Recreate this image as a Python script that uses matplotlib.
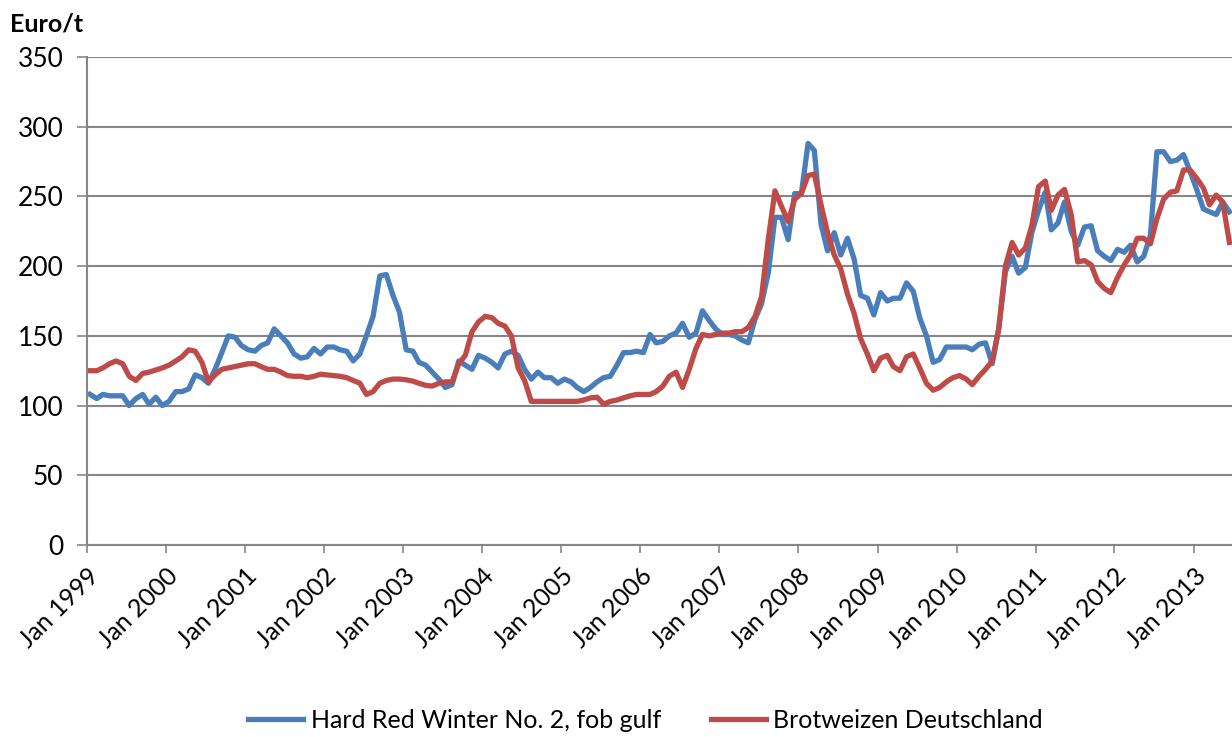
import matplotlib
matplotlib.use('Agg')
import matplotlib.pyplot as plt
import pandas as pd

# Monthly prices (Euro/t), Jan 1999 .. Jun 2013
hrw = [108, 105, 108, 107, 107, 107, 100, 105, 108, 101, 106, 100,
       103, 110, 110, 112, 122, 120, 116, 126, 138, 150, 149, 143,
       140, 139, 143, 145, 155, 150, 145, 137, 134, 135, 141, 137,
       142, 142, 140, 139, 132, 137, 150, 164, 193, 194, 179, 167,
       140, 139, 131, 129, 124, 119, 113, 115, 132, 129, 126, 136,
       134, 131, 127, 137, 139, 136, 126, 119, 124, 120, 120, 116,
       119, 117, 113, 110, 113, 117, 120, 121, 129, 138, 138, 139,
       138, 151, 145, 146, 150, 152, 159, 149, 152, 168, 161, 155,
       151, 151, 150, 147, 145, 162, 173, 195, 235, 235, 219, 252,
       252, 288, 283, 230, 211, 224, 208, 220, 205, 179, 177, 165,
       181, 175, 177, 177, 188, 182, 163, 150, 131, 133, 142, 142,
       142, 142, 140, 144, 145, 130, 155, 196, 207, 195, 199, 224,
       240, 253, 226, 231, 246, 225, 215, 228, 229, 211, 207, 204,
       212, 210, 215, 203, 207, 222, 282, 282, 275, 276, 280, 268,
       255, 241, 239, 237, 246, 239]

brot = [125, 125, 127, 130, 132, 130, 121, 118, 123, 124, 125.5, 127,
        129, 132, 135, 140, 139, 131, 117, 122, 126, 127, 128, 129,
        130, 130, 128, 126, 126, 124, 121.5, 121, 121, 120, 121, 122.5,
        122, 121.5, 121, 120, 118, 116, 108, 110, 116, 118, 119, 119,
        118.5, 117.5, 116, 114.5, 114, 116, 117, 117, 130, 136, 153, 160,
        164, 163, 159, 157, 150, 127, 118, 103, 103, 103, 103, 103,
        103, 103, 103, 104, 105.5, 106, 101, 103, 104, 105.5, 107, 108,
        108, 108, 110, 114, 121, 124, 113, 126, 141, 151, 150, 151,
        152, 152, 153, 153, 156, 164, 178, 219, 254, 243, 232, 248,
        252, 265, 266, 244, 224, 208, 198, 180, 166, 148, 137, 125,
        134, 136, 128, 125, 135, 137, 127, 116, 111, 113, 117, 120,
        121.5, 119, 115, 121, 126, 132, 155, 200, 217, 208, 213, 229,
        257, 261, 240, 251, 255, 237, 203, 204, 201, 189, 184, 181,
        192, 201, 208, 220, 220, 216, 234, 248, 253, 254, 269, 269,
        263, 256, 244, 251, 246, 217]

years = list(range(1999, 2014))
tick_labels = [f'Jan {y}' for y in years]
y_ticks = [0, 50, 100, 150, 200, 250, 300, 350]
series_names = ['Hard Red Winter No. 2, fob gulf', 'Brotweizen Deutschland']

dates = pd.date_range('1999-01-01', periods=len(hrw), freq='MS') + pd.Timedelta(days=14)
tick_dates = pd.to_datetime([f'{y}-01-01' for y in years])

plt.rcParams['font.family'] = ['Lato', 'DejaVu Sans']

fig = plt.figure(figsize=(12.32, 7.37), dpi=100)
ax = fig.add_axes([87/1232, 1 - 545/737, 1 - 87/1232, (545 - 57)/737])

blue = '#4A7EBB'
red = '#BE4B48'
grid_c = '#868686'

ax.plot(dates, hrw, color=blue, lw=3.8, label=series_names[0], solid_joinstyle='round')
ax.plot(dates, brot, color=red, lw=3.8, label=series_names[1], solid_joinstyle='round')

ax.set_ylim(0, 350)
ax.set_yticks(y_ticks)
ax.set_xlim(pd.Timestamp('1999-01-01'), pd.Timestamp('2013-06-27'))
ax.set_xticks(tick_dates)
ax.set_xticklabels(tick_labels, rotation=45, ha='right', rotation_mode='anchor')

ax.grid(axis='y', color=grid_c, lw=1.5)
ax.set_axisbelow(True)
for s in ['top', 'right']:
    ax.spines[s].set_visible(False)
for s in ['left', 'bottom']:
    ax.spines[s].set_color(grid_c)
    ax.spines[s].set_linewidth(1.5)

ax.tick_params(axis='y', length=7, width=1.2, color=grid_c, pad=10, labelsize=19)
ax.tick_params(axis='x', length=6, width=1.2, color=grid_c, pad=8, labelsize=18)

fig.text(10/1232, 1 - 24/737, 'Euro/t', fontsize=18, fontweight='bold', va='center', ha='left')

fig.legend(loc='center', bbox_to_anchor=(0.524, 0.023), ncol=2, frameon=False,
           fontsize=18, handlelength=2.2, handletextpad=0.3, columnspacing=2.0)

fig.savefig('out.png', dpi=100)
